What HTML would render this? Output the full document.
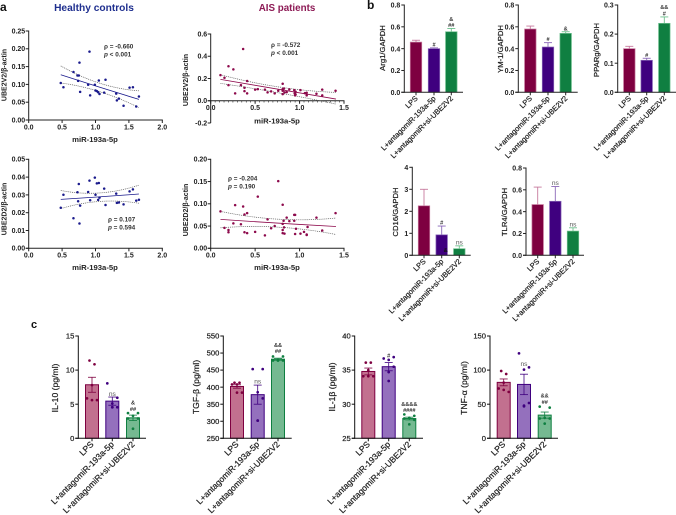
<!DOCTYPE html>
<html lang="en">
<head>
<meta charset="utf-8">
<title>Correlation and expression panels</title>
<style>
html,body{margin:0;padding:0;background:#fff;width:676px;height:515px;overflow:hidden}
svg{display:block;filter:blur(.3px)}
text{font-family:"Liberation Sans",sans-serif}
</style>
</head>
<body>
<svg id="figure" width="676" height="515" viewBox="0 0 676 515" xmlns="http://www.w3.org/2000/svg"></svg>
<script>
// ---- scatter data (panel a) ----
const healthyMir = [.48,.52,.67,.73,.74,.75,.76,.77,.89,.91,.92,.99,1.0,1.02,1.04,1.05,1.06,1.13,1.15,1.31,1.32,1.35,1.42,1.51,1.56,1.61,1.65];
const healthyV2Mir = [.48,.52,.67,.73,.75,.74,.76,.77,.89,.91,.92,.99,1.0,1.02,1.04,1.05,1.06,1.13,1.15,1.31,1.32,1.35,1.42,1.51,1.56,1.61,1.65];
const healthyV2 = [.104,.092,.135,.125,.125,.11,.161,.079,.099,.192,.069,.099,.083,.081,.078,.111,.073,.077,.113,.074,.055,.06,.04,.091,.092,.038,.066];
const healthyD2 = [.0228,.0301,.0169,.0315,.0264,.0361,.0139,.024,.0316,.038,.027,.0397,.0301,.0365,.0272,.0367,.0285,.0335,.0243,.0307,.0255,.0257,.0247,.032,.0331,.0268,.0273];
const aisV2Mir = [.11,.155,.2,.2,.255,.275,.34,.365,.38,.38,.41,.41,.5,.53,.61,.64,.68,.72,.76,.81,.81,.81,.81,.825,.83,.855,.885,.94,.945,.95,.955,.955,1.01,1.06,1.08,1.08,1.19,1.255,1.255,1.405];
const aisV2 = [.23,.207,.31,.14,.282,.066,.14,.465,.117,.087,.177,.066,.1,.105,.1,.075,.084,.066,.09,.153,.105,.06,.09,.11,.075,.078,.102,.096,.066,.048,.081,.057,.096,.069,.072,.048,.063,.1,.048,.09];
const aisD2Mir = [.11,.155,.2,.2,.255,.275,.34,.365,.38,.38,.41,.41,.5,.53,.61,.64,.68,.72,.76,.81,.81,.81,.81,.82,.825,.83,.855,.885,.94,.94,.95,.95,.96,1.01,1.05,1.08,1.08,1.09,1.19,1.255,1.405];
const aisD2 = [.083,.046,.041,.036,.056,.097,.054,.094,.076,.036,.079,.034,.037,.116,.029,.065,.045,.05,.151,.098,.041,.034,.055,.062,.047,.033,.069,.061,.062,.075,.075,.032,.044,.033,.037,.031,.03,.048,.069,.04,.079];

// ---- regression fit and confidence band, read at start / middle / end ----
const healthyFitX = [.48,1.02,1.65];
const healthyV2Fit = [.127,.0945,.058];
const healthyV2Upper = [.152,.106,.082];
const healthyV2Lower = [.104,.082,.035];
const healthyD2Fit = [.0275,.0288,.0305];
const healthyD2Upper = [.0325,.031,.0355];
const healthyD2Lower = [.0223,.0262,.0253];
const aisFitX = [.11,.8,1.41];
const aisV2Fit = [.192,.098,.015];
const aisV2Upper = [.234,.12,.075];
const aisV2Lower = [.156,.066,-.03];
const aisD2Fit = [.065,.056,.049];
const aisD2Upper = [.083,.065,.068];
const aisD2Lower = [.046,.047,.031];

// ---- tick labels ----
const ticksHealthyX = ['0.0','0.5','1.0','1.5','2.0'];
const ticksAisX = ['0.0','0.5','1.0','1.5'];
const ticksV2Healthy = ['0.00','0.05','0.10','0.15','0.20','0.25'];
const ticksV2Ais = ['-0.2','0.0','0.2','0.4','0.6'];
const ticksD2Healthy = ['0.00','0.01','0.02','0.03','0.04','0.05'];
const ticksD2Ais = ['0.00','0.05','0.10','0.15','0.20'];

// ---- bar data (panel b) ----
const groups = ['LPS','L+antagomiR-193a-5p','L+antagomiR+si-UBE2V2'];
const arg1Means = [.46,.40,.555];
const arg1Errors = [.017,.007,.03];
const ym1Means = [.58,.415,.54];
const ym1Errors = [.027,.04,.015];
const pparMeans = [.15,.11,.237];
const pparErrors = [.008,.007,.022];
const cd16Means = [2.25,.93,.3];
const cd16Errors = [.75,.4,.13];
const tlr4Means = [.465,.495,.222];
const tlr4Errors = [.16,.135,.03];
const ticks08 = ['0.0','0.2','0.4','0.6','0.8'];
const ticks03 = ['0.0','0.1','0.2','0.3'];
const ticks4 = ['0','1','2','3','4'];

// ---- bar + point data (panel c) ----
const il10Means = [7.85,5.45,3.0];
const il10Errors = [1.1,.6,.4];
const il10Points = [[11.4,10.85,7.8,5.85,5.6,5.6],[8.05,5.95,5.1,4.55,4.55,4.55],[3.7,3.7,3.3,2.9,2.9,1.4]];
const tgfMeans = [402,378,482];
const tgfErrors = [5,28,3];
const tgfPoints = [[413,413,408,408,384,384],[453,453,385,367,302,302],[490,490,478,478,478,478]];
const il1Means = [34.8,35.5,27.9];
const il1Errors = [.5,.6,.2];
const il1Points = [[36.1,36.1,35,34.1,34.1,34.1],[36.7,36.9,36.5,35.5,34.7,33.4],[28.5,28.3,28,27.9,27.7,27.05]];
const tnfMeans = [82,79,34];
const tnfErrors = [5,15,4.5];
const tnfPoints = [[98.7,94.3,81.6,73,71,68],[124.6,104,100.7,51.8,47.9,46.9],[46.4,45,30,29,29,21.5]];
const ticksIl10 = ['0','5','10','15'];
const ticksTgf = ['250','300','350','400','450','500','550'];
const ticksIl1 = ['25','30','35','40'];
const ticksTnf = ['0','50','100','150'];

const svg = document.getElementById('figure');
const NS = 'http://www.w3.org/2000/svg';
const palette = ['#7e0040','#3f007f','#0f7f41'];
const tint = ['#c77a9e','#8a68b8','#6ec08e'];
const soft = ['#c2708f','#9470bd','#75b991'];
const swarm = [[-.5,.5,0,-1,0,1],[-1,1,0,1,0,0],[-1,1,0,-1,1,0]];

function make(tag, attrs, parent){
  const el = document.createElementNS(NS, tag);
  for (const k in attrs) el.setAttribute(k, attrs[k]);
  parent.appendChild(el);
  return el;
}
function label(str, attrs, parent, name){
  const el = make('text', attrs, parent);
  el.textContent = str;
  
  
  return el;
}
function group(parent, name){
  const g = make('g', {}, parent);
  
  
  return g;
}
function scale(d0, d1, r0, r1){ return v => r0 + (v - d0) * (r1 - r0) / (d1 - d0); }
function line(parent, x1, y1, x2, y2, stroke, w, name){
  const el = make('line', {x1:x1, y1:y1, x2:x2, y2:y2, stroke:stroke, 'stroke-width':w}, parent);
  
  
  return el;
}
function curve(parent, xs, ys, X, Y, stroke, w, dash, name){
  const x0 = X(xs[0]), x1 = X(xs[1]), x2 = X(xs[2]);
  const y0 = Y(ys[0]), y1 = Y(ys[1]), y2 = Y(ys[2]);
  const t = (x1 - x0) / (x2 - x0);
  const cx = (x1 - (1-t)*(1-t)*x0 - t*t*x2) / (2*t*(1-t));
  const cy = (y1 - (1-t)*(1-t)*y0 - t*t*y2) / (2*t*(1-t));
  const el = make('path', {d:`M${x0} ${y0}Q${cx} ${cy} ${x2} ${y2}`, fill:'none', stroke:stroke, 'stroke-width':w}, parent);
  if (dash) el.setAttribute('stroke-dasharray', dash);
  
  
}

function scatter(c){
  const g = group(svg, c.name);
  const X = scale(c.xd[0], c.xd[1], c.xr[0], c.xr[1]);
  const Y = scale(c.yd[0], c.yd[1], c.yr[0], c.yr[1]);
  const base = Y(0);
  line(g, c.xr[0], c.yr[0] + (c.yd[0] < 0 ? 0 : .5), c.xr[0], c.yr[1] - .5, '#222', 1, 'y-axis');
  line(g, c.xr[0] - 3, base, c.xr[1] + .5, base, '#222', 1, 'x-axis');
  c.yLabels.forEach((t, i) => {
    const v = c.yd[0] + (c.yd[1] - c.yd[0]) * i / (c.yLabels.length - 1);
    line(g, c.xr[0] - 3, Y(v), c.xr[0], Y(v), '#222', 1, 'y-tick');
    label(t, {x:c.xr[0] - 3.5, y:Y(v) + 2.4, 'text-anchor':'end', 'font-size':7, 'font-weight':'bold', fill:'#222'}, g, 'y-tick-label');
  });
  c.xLabels.forEach((t, i) => {
    const v = c.xd[0] + (c.xd[1] - c.xd[0]) * i / (c.xLabels.length - 1);
    line(g, X(v), base, X(v), base + 3, '#222', 1, 'x-tick');
    label(t, {x:X(v), y:base + 9.3, 'text-anchor':'middle', 'font-size':7, 'font-weight':'bold', fill:'#222'}, g, 'x-tick-label');
  });
  if (c.minor) {
    for (let i = 1; i < 30; i++) line(g, X(i*.05), base, X(i*.05), base + 1.8, '#222', .6, 'x-minor-tick');
  }
  curve(g, c.fitX, c.upper, X, Y, '#555', .7, '1 .9', 'confidence-upper');
  curve(g, c.fitX, c.lower, X, Y, '#555', .7, '1 .9', 'confidence-lower');
  curve(g, c.fitX, c.fit, X, Y, c.color, .8, null, 'regression-line');
  c.xs.forEach((x, i) => {
    const p = make('circle', {cx:X(x), cy:Y(c.ys[i]), r:1.25, fill:c.color}, g);
    
    
  });
  label(c.yTitle, {x:0, y:0, transform:`translate(${c.yt[0]} ${c.yt[1]}) rotate(-90)`, 'text-anchor':'middle', 'font-size':7, 'font-weight':'bold', fill:'#222'}, g, 'y-axis-title');
  label('miR-193a-5p', {x:c.xt[0], y:c.xt[1], 'text-anchor':'middle', 'font-size':7.7, 'font-weight':'bold', fill:'#222'}, g, 'x-axis-title');
  label('ρ = ' + c.rho, {x:c.stat[0], y:c.stat[1], 'font-size':6.4, 'font-weight':'bold', fill:'#333'}, g, 'rho-value');
  const pl = label('', {x:c.stat[0], y:c.stat[1] + 7.8, 'font-size':6.4, 'font-weight':'bold', fill:'#333'}, g, 'p-value');
  const it = make('tspan', {'font-style':'italic'}, pl);
  it.textContent = 'p';
  const rest = make('tspan', {}, pl);
  rest.textContent = ' ' + c.pval;
}

function bars(c){
  const g = group(svg, c.name);
  const Y = scale(c.yd[0], c.yd[1], c.yr[0], c.yr[1]);
  const bw = c.points ? 13 : 11.5;
  const col = c.points ? '#111' : '#222';
  const heavy = {stroke:'#222', 'stroke-width':.22};
  c.centers.forEach((cx, i) => {
    const top = Y(c.means[i]);
    const b = make('rect', {x:cx - bw/2, y:top, width:bw, height:c.yr[0] - top,
      fill:c.points ? soft[i] : palette[i],
      stroke:c.points ? palette[i] : tint[i], 'stroke-width':c.points ? 1 : .7}, g);
    
    
    const hi = Y(c.means[i] + c.errors[i]);
    const lo = c.points ? Y(c.means[i] - c.errors[i]) : top;
    const ec = c.points ? palette[i] : tint[i];
    const ew = c.points ? .8 : .9;
    line(g, cx, hi, cx, lo, ec, ew, 'error-bar');
    line(g, cx - 4, hi, cx + 4, hi, ec, ew, 'error-cap');
    if (c.points) line(g, cx - 4, lo, cx + 4, lo, ec, ew, 'error-cap');
    if (c.points) {
      c.points[i].forEach((v, j) => {
        const p = make('circle', {cx:cx + swarm[i][j] * 5, cy:Y(v), r:1.35, fill:palette[i]}, g);
        
        
      });
    }
    (c.notes[i] || []).forEach((n, k) => {
      const isNs = n === 'ns';
      label(n, {x:cx, y:hi - (c.gaps ? c.gaps[i] : 1.4) - k * 6.3, 'text-anchor':'middle',
        'font-size':isNs ? 6.6 : 5.6, 'font-weight':isNs ? 'normal' : 'bold', fill:isNs ? '#555' : '#333'}, g, 'significance-mark');
    });
    line(g, cx, c.yr[0], cx, c.yr[0] + 3, col, 1, 'x-tick');
    const ax = cx + 2.2, ay = c.yr[0] + 6.6;
    label(groups[i], Object.assign({x:0, y:0, transform:`translate(${ax} ${ay}) rotate(-45)`, 'text-anchor':'end',
      'font-size':c.points ? 8.5 : 7.4, fill:'#222'}, heavy), g, 'x-tick-label');
  });
  line(g, c.axisX, c.yr[1] - .5, c.axisX, c.yr[0] + .5, col, 1, 'y-axis');
  line(g, c.axisX - 3, c.yr[0], c.endX, c.yr[0], col, 1, 'x-axis');
  c.yLabels.forEach((t, i) => {
    const v = c.yd[0] + (c.yd[1] - c.yd[0]) * i / (c.yLabels.length - 1);
    line(g, c.axisX - 3, Y(v), c.axisX, Y(v), col, 1, 'y-tick');
    label(t, Object.assign({x:c.axisX - 4, y:Y(v) + 2.6, 'text-anchor':'end', 'font-size':c.points ? 7.6 : 7,
      'font-weight':c.points ? 'normal' : 'bold', fill:'#222'}, c.points ? heavy : {}), g, 'y-tick-label');
  });
  label(c.title, Object.assign({x:0, y:0, transform:`translate(${c.yt[0]} ${c.yt[1]}) rotate(-90)`, 'text-anchor':'middle',
    'font-size':c.points ? 8.6 : 7.7, fill:'#222'}, heavy), g, 'y-axis-title');
}

// ---- headings ----
label('a', {x:0, y:11, 'font-size':12, 'font-weight':'bold', fill:'#111'}, svg, 'panel-label-a');
label('b', {x:367, y:9, 'font-size':12, 'font-weight':'bold', fill:'#111'}, svg, 'panel-label-b');
label('c', {x:31, y:328, 'font-size':11, 'font-weight':'bold', fill:'#111'}, svg, 'panel-label-c');
label('Healthy controls', {x:94, y:11, 'text-anchor':'middle', 'font-size':10.2, 'font-weight':'bold', fill:'#1f2f8f'}, svg, 'healthy-controls-title');
label('AIS patients', {x:287, y:11, 'text-anchor':'middle', 'font-size':9.8, 'font-weight':'bold', fill:'#8d1a55'}, svg, 'ais-patients-title');

// ---- panel a ----
const blue = '#1a1a8c', wine = '#8d0a4c';
scatter({name:'scatter-healthy-ube2v2', xd:[0,2], xr:[28.7,162.3], yd:[0,.25], yr:[120,31], xLabels:ticksHealthyX, yLabels:ticksV2Healthy,
  xs:healthyV2Mir, ys:healthyV2, fitX:healthyFitX, fit:healthyV2Fit, upper:healthyV2Upper, lower:healthyV2Lower, color:blue,
  yTitle:'UBE2V2/β-actin', yt:[6.5,75], xt:[95,142], stat:[104,48.5], rho:'-0.660', pval:'< 0.001'});
scatter({name:'scatter-ais-ube2v2', xd:[0,1.5], xr:[210.7,344], yd:[-.2,.6], yr:[123,34], xLabels:ticksAisX, yLabels:ticksV2Ais, minor:true,
  xs:aisV2Mir, ys:aisV2, fitX:aisFitX, fit:aisV2Fit, upper:aisV2Upper, lower:aisV2Lower, color:wine,
  yTitle:'UBE2V2/β-actin', yt:[188,80], xt:[277,123.5], stat:[271,47], rho:'-0.572', pval:'< 0.001'});
scatter({name:'scatter-healthy-ube2d2', xd:[0,2], xr:[28.7,162.3], yd:[0,.05], yr:[248.3,159.3], xLabels:ticksHealthyX, yLabels:ticksD2Healthy,
  xs:healthyMir, ys:healthyD2, fitX:healthyFitX, fit:healthyD2Fit, upper:healthyD2Upper, lower:healthyD2Lower, color:blue,
  yTitle:'UBE2D2/β-actin', yt:[6.5,209], xt:[95,270], stat:[108,221.5], rho:'0.107', pval:'= 0.594'});
scatter({name:'scatter-ais-ube2d2', xd:[0,1.5], xr:[210.7,344], yd:[0,.2], yr:[248.3,159.3], xLabels:ticksAisX, yLabels:ticksD2Ais,
  xs:aisD2Mir, ys:aisD2, fitX:aisFitX, fit:aisD2Fit, upper:aisD2Upper, lower:aisD2Lower, color:wine,
  yTitle:'UBE2D2/β-actin', yt:[188,210], xt:[277,270], stat:[228,180.5], rho:'-0.204', pval:'= 0.190'});

// ---- panel b ----
bars({name:'bar-chart-arg1', key:'arg1', title:'Arg1/GAPDH', means:arg1Means, errors:arg1Errors, yd:[0,.8], yr:[92.3,5], yLabels:ticks08,
  axisX:404.3, endX:463, centers:[416,434,451.3], yt:[385,48], notes:[[],['#'],['##','&']]});
bars({name:'bar-chart-ym1', key:'ym1', title:'YM-1/GAPDH', means:ym1Means, errors:ym1Errors, yd:[0,.8], yr:[92.3,5], yLabels:ticks08,
  axisX:518.3, endX:577.7, centers:[530.3,548,565.7], yt:[503,49], notes:[[],['#'],['&']]});
bars({name:'bar-chart-pparg', key:'pparg', title:'PPARg/GAPDH', means:pparMeans, errors:pparErrors, yd:[0,.3], yr:[92.3,5], yLabels:ticks03,
  axisX:617.7, endX:676, centers:[629.3,646.7,664.3], yt:[599,50], notes:[[],['#'],['#','&&']]});
bars({name:'bar-chart-cd16', key:'cd16', title:'CD16/GAPDH', means:cd16Means, errors:cd16Errors, yd:[0,4], yr:[255.3,167.3], yLabels:ticks4,
  axisX:412.3, endX:470.7, centers:[424,441.7,459.3], yt:[398,212], notes:[[],['#'],['ns']]});
bars({name:'bar-chart-tlr4', key:'tlr4', title:'TLR4/GAPDH', means:tlr4Means, errors:tlr4Errors, yd:[0,.8], yr:[255.3,168], yLabels:ticks08,
  axisX:526, endX:584, centers:[537.7,555.3,573], yt:[507,212], notes:[[],['ns'],['ns']]});
label('&', {x:445.7, y:252, 'text-anchor':'middle', 'font-size':5.6, 'font-weight':'bold', fill:'#111'}, svg, 'cd16-stray-mark');

// ---- panel c ----
bars({name:'bar-chart-il10', key:'il10', title:'IL-10 (pg/ml)', means:il10Means, errors:il10Errors, points:il10Points, yd:[0,15], yr:[438.3,336], yLabels:ticksIl10,
  axisX:78.3, endX:146, centers:[92,112.3,133], yt:[58,388], notes:[[],['ns'],['##','&']], gaps:[0,1,4.3]});
bars({name:'bar-chart-tgf', key:'tgf', title:'TGF-β (pg/ml)', means:tgfMeans, errors:tgfErrors, points:tgfPoints, yd:[250,550], yr:[438.3,336], yLabels:ticksTgf,
  axisX:223.3, endX:291.7, centers:[237,257.7,278], yt:[199,387], notes:[[],['ns'],['##','&&']], gaps:[0,1.5,5]});
bars({name:'bar-chart-il1b', key:'il1b', title:'IL-1β (pg/ml)', means:il1Means, errors:il1Errors, points:il1Points, yd:[25,40], yr:[438.3,336], yLabels:ticksIl1,
  axisX:354.7, endX:423, centers:[368.3,388.7,409.3], yt:[335,387], notes:[[],['#'],['####','&&&&']], gaps:[0,5,5]});
bars({name:'bar-chart-tnf', key:'tnf', title:'TNF-α (pg/ml)', means:tnfMeans, errors:tnfErrors, points:tnfPoints, yd:[0,150], yr:[438.3,336], yLabels:ticksTnf,
  axisX:490, endX:558, centers:[503.7,524,544.7], yt:[467,388], notes:[[],['ns'],['##','&&']], gaps:[0,8,8]});
</script>
</body>
</html>
